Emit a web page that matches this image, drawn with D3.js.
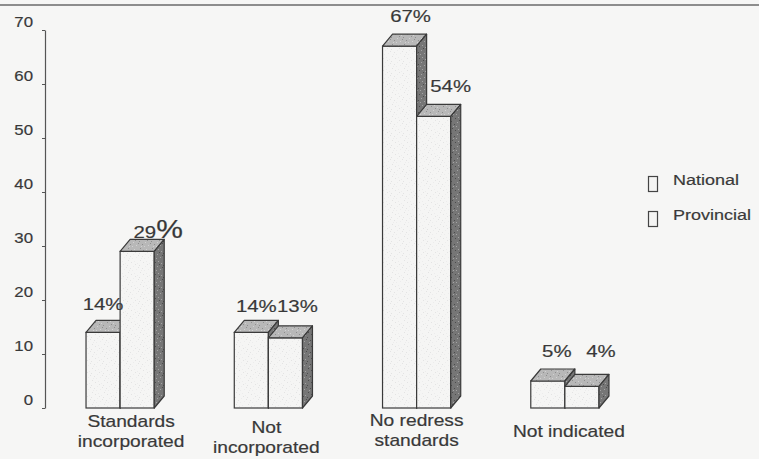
<!DOCTYPE html>
<html>
<head>
<meta charset="utf-8">
<script src="https://cdn.jsdelivr.net/npm/d3@7"></script>
<style>
  html, body { margin: 0; padding: 0; background: #f6f6f5; }
  svg { display: block; }
  text { font-family: "Liberation Sans", Arial, sans-serif; fill: #383838; stroke: #454545; stroke-width: 0.2px; }
</style>
</head>
<body>
<svg id="chart" width="759" height="459"></svg>
<script>
// Redress standards, share of plans (%)
const categories = [["Standards", "incorporated"], ["Not", "incorporated"], ["No redress", "standards"], ["Not indicated"]];
const seriesNames = ["National", "Provincial"];
const nationalValues = [14, 14, 67, 5];
const provincialValues = [29, 13, 54, 4];
const yTicks = [0, 10, 20, 30, 40, 50, 60, 70];

// label nudges [dx, dy] for value labels, and label line offsets per category
const valueNudge = [[[0, 2], [21, 11]], [[5, 4], [12, -2]], [[11, 0], [17, 0]], [[9, 0], [19, -5]]];
const catNudge = [[11, 0], [-2, 6], [0, -1], [4, 5]];

const W = 759, H = 459;
const SX = 1.2;            // horizontal stretch of the lettering
const DX = 10, DY = 12;    // 3D depth offsets

const svg = d3.select("#chart");
const defs = svg.append("defs");

// stippled textures for the faces (fixed speckle layout within a tile)
const speckle = [[1, 2], [7, 1], [4, 5], [10, 4], [2, 9], [8, 8], [5, 11], [11, 10], [0, 6], [6, 3], [9, 6], [3, 0]];
function stipple(id, base, dark, light) {
  const p = defs.append("pattern").attr("id", id).attr("patternUnits", "userSpaceOnUse")
    .attr("width", 12).attr("height", 12);
  p.append("rect").attr("width", 12).attr("height", 12).attr("fill", base);
  speckle.forEach((d, i) => p.append("rect").attr("x", d[0]).attr("y", d[1])
    .attr("width", 1).attr("height", 1).attr("fill", i % 2 ? dark : light));
}
stipple("front", "#f5f5f4", "#e3e3e3", "#ececec");
stipple("top", "#b8b8b8", "#8e8e8e", "#d2d2d2");
stipple("side", "#767676", "#4c4c4c", "#a4a4a4");

// top rule
svg.append("line").attr("x1", 0).attr("x2", W).attr("y1", 5).attr("y2", 5)
  .attr("stroke", "#6a6a6a").attr("stroke-width", 1.6);

const y = d3.scaleLinear().domain([0, 70]).range([408, 30]);
const x0 = d3.scaleBand().domain(d3.range(categories.length)).range([46, 639])
  .paddingInner(0.54).paddingOuter(0.27);
const x1 = d3.scaleBand().domain(seriesNames).range([0, x0.bandwidth()]);

// axis
const axis = svg.append("g").attr("transform", "translate(45,0)")
  .call(d3.axisLeft(y).tickValues(yTicks).tickSize(3).tickSizeOuter(0).tickPadding(0));
axis.select(".domain").attr("stroke", "#555").attr("stroke-width", 1.2);
axis.selectAll(".tick line").attr("stroke", "#555");
axis.selectAll(".tick text")
  .attr("x", null).attr("dy", null).attr("y", -4)
  .attr("text-anchor", "end")
  .attr("transform", `translate(-12,0) scale(${SX},1)`)
  .style("font-size", "14px").style("font-family", "'Liberation Sans', Arial, sans-serif")
  .attr("fill", "#444");

function stretchedText(parent, x, yy, anchor, size) {
  return parent.append("text")
    .attr("transform", `translate(${x},${yy}) scale(${SX},1)`)
    .attr("text-anchor", anchor)
    .style("font-size", size + "px");
}

// 3D bars
const bars = svg.append("g");
categories.forEach((c, i) => {
  const vals = [nationalValues[i], provincialValues[i]];
  seriesNames.forEach((s, k) => {
    const left = x0(i) + x1(s), w = x1.bandwidth();
    const top = y(vals[k]), bot = y(0), right = left + w;
    const g = bars.append("g");
    g.append("rect").attr("x", left).attr("y", top).attr("width", w).attr("height", bot - top)
      .attr("fill", "url(#front)").attr("stroke", "#3a3a3a").attr("stroke-width", 1.2);
    g.append("path")
      .attr("d", `M${left},${top}L${left + DX},${top - DY}L${right + DX},${top - DY}L${right},${top}Z`)
      .attr("fill", "url(#top)").attr("stroke", "#3a3a3a").attr("stroke-width", 1.2)
      .attr("stroke-linejoin", "round");
    g.append("path")
      .attr("d", `M${right},${top}L${right + DX},${top - DY}L${right + DX},${bot - DY}L${right},${bot}Z`)
      .attr("fill", "url(#side)").attr("stroke", "#3a3a3a").attr("stroke-width", 1.2)
      .attr("stroke-linejoin", "round");
  });
});

// value labels
categories.forEach((c, i) => {
  const vals = [nationalValues[i], provincialValues[i]];
  seriesNames.forEach((s, k) => {
    const cx = x0(i) + x1(s) + x1.bandwidth() / 2 + valueNudge[i][k][0];
    const by = y(vals[k]) - 24 + valueNudge[i][k][1];
    const t = stretchedText(svg, cx, by, "middle", 17);
    if (i === 0 && k === 1) {
      t.append("tspan").text(vals[k]);
      t.append("tspan").style("font-size", "25px").text("%");
    } else {
      t.text(vals[k] + "%");
    }
  });
});

// category labels
categories.forEach((lines, i) => {
  const cx = x0(i) + x0.bandwidth() / 2 + catNudge[i][0];
  const base = (lines.length === 1 ? 432 : 427) + catNudge[i][1];
  lines.forEach((ln, j) => {
    stretchedText(svg, cx, base + j * 20, "middle", 16).text(ln);
  });
});

// legend
const legend = svg.append("g");
seriesNames.forEach((s, k) => {
  const ly = 185 + k * 35;
  legend.append("rect").attr("x", 648.5).attr("y", ly - 8.5).attr("width", 9).attr("height", 15)
    .attr("fill", "#f4f4f3").attr("stroke", "#444").attr("stroke-width", 1.2);
  stretchedText(legend, 673, ly, "start", 15).text(s);
});
</script>
</body>
</html>
